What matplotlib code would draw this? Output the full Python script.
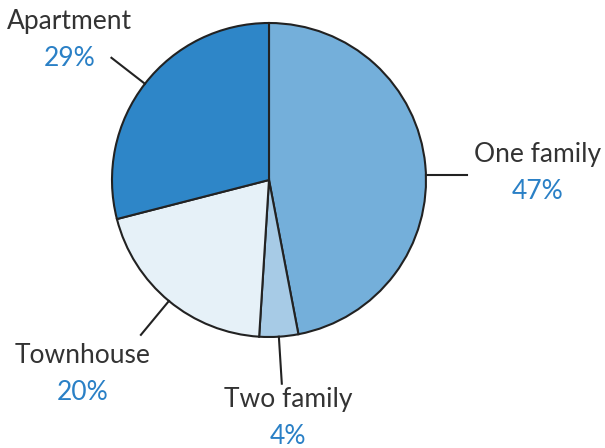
import numpy as np
import matplotlib.pyplot as plt

# home types and their shares
labels = ['One family', 'Two family', 'Townhouse', 'Apartment']
shares = [47, 4, 20, 29]
colors = ['#74afda', '#a7cbe6', '#e6f1f8', '#2e86c8']

# label placement (data units, pie radius = 1) and leader-line lengths
label_pos = [(1.71, 0.16), (0.12, -1.40), (-1.185, -1.12), (-1.27, 1.01)]
leader_len = [0.26, 0.30, 0.28, 0.27]

W, H = 605, 448
cx, cy, r = 269, 180, 157

fig = plt.figure(figsize=(W / 100, H / 100), dpi=100)
ax = fig.add_axes([(cx - r) / W, (H - cy - r) / H, 2 * r / W, 2 * r / H])

wedges, _ = ax.pie(shares, colors=colors, startangle=90, counterclock=False,
                   radius=1,
                   wedgeprops=dict(edgecolor='#222222', linewidth=1.5))
ax.set_xlim(-1, 1)
ax.set_ylim(-1, 1)
ax.set_aspect('equal')
ax.axis('off')

for w, lab, val, (tx, ty), ln in zip(wedges, labels, shares, label_pos, leader_len):
    mid = np.deg2rad((w.theta1 + w.theta2) / 2)
    x0, y0 = np.cos(mid), np.sin(mid)
    if lab == 'One family':
        # horizontal leader for the big slice
        ax.plot([1.0, 1.0 + ln], [0.03, 0.03], color='#222222', lw=1.5,
                clip_on=False)
    else:
        ax.plot([x0, x0 * (1 + ln)], [y0, y0 * (1 + ln)], color='#222222',
                lw=1.5, clip_on=False)
    ax.text(tx, ty, lab, ha='center', va='center', fontsize=19,
            family='Lato', color='#333333', clip_on=False)
    ax.text(tx, ty - 0.235, f'{val}%', ha='center', va='center', fontsize=19,
            family='Lato', color='#2a80c6', clip_on=False)

fig.savefig('out.png', dpi=100)
